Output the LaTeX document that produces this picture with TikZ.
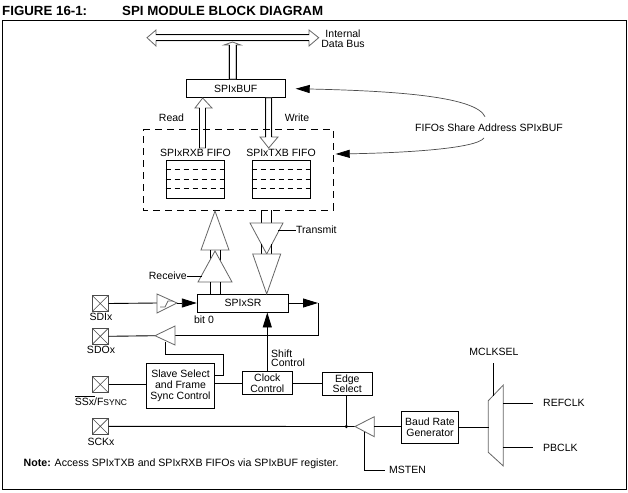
\documentclass[tikz,border=0pt]{standalone}
\usepackage{fontspec}
\setmainfont{Liberation Sans}
\usetikzlibrary{arrows.meta}
\tikzset{
  x=1pt,y=-1pt,
  wire/.style={draw=black,line width=0.9pt},
  thin wire/.style={draw=black,line width=0.8pt},
  bighead/.style={-{Triangle[length=15pt,width=9pt,color=black]}},
  box/.style={draw=black,line width=0.9pt,fill=white,inner sep=0pt,align=center,font=\fontsize{10.5}{10.5}\selectfont},
  lab/.style={inner sep=0pt,font=\fontsize{10.5}{10.5}\selectfont,align=center},
  hollow/.style={draw=black!60,line width=0.8pt,fill=white,line join=miter},
  tri/.style={draw=black!60,line width=0.8pt,fill=white},
  pin/.style={draw=black!70,line width=0.8pt,fill=white,minimum size=16pt,inner sep=0pt,
    path picture={\draw[black!70,line width=.6pt] (path picture bounding box.north west)--(path picture bounding box.south east) (path picture bounding box.north east)--(path picture bounding box.south west);}},
  fifo/.style={draw=black,line width=0.9pt,fill=white,minimum width=58pt,minimum height=37.5pt,inner sep=0pt},
  dashline/.style={draw=black,line width=0.8pt,dash pattern=on 7pt off 5pt},
  headfont/.style={anchor=west,inner sep=0pt,font=\bfseries\fontsize{13.3}{13.3}\selectfont},
}
\begin{document}
\begin{tikzpicture}
\useasboundingbox (0,0) rectangle (628,492);
\fill[white] (0,0) rectangle (628,492);
% heading
\node[headfont] (fig) at (2,11) {FIGURE 16-1:};
\node[headfont] (ttl) at (122,11) {SPI MODULE BLOCK DIAGRAM};
\draw[line width=0.9pt] (2.5,20.5) -- (626,20.5) -- (626,489) -- (2.5,489) -- cycle;
% data bus
\draw[hollow] (147,37.7) -- (156,30) -- (156,34.7) -- (309,34.7) -- (309,30) -- (318.7,37.7) -- (309,46) -- (309,40.7) -- (156,40.7) -- (156,46) -- cycle;
\draw[thin wire] (156,34.7) -- (309,34.7) (156,40.7) -- (309,40.7);
\node[lab] (bus) at (343,39) {Internal\\[-0.8pt]Data Bus};
% bus-to-buffer
\node[box,minimum width=99.5pt,minimum height=18.5pt] (buf) at (235.7,88.7) {SPIxBUF};
\draw[hollow] (232.5,42) -- (240.7,45) -- (236,45) -- (236,79) -- (229,79) -- (229,45) -- (224,45) -- cycle;
\draw[thin wire] (229,45)--(229,79) (236,45)--(236,79);
% Read / write
\draw[hollow] (202.7,98) -- (212,108) -- (205.5,108) -- (205.5,148) -- (199.5,148) -- (199.5,108) -- (195,108) -- cycle;
\draw[thin wire] (199.5,108)--(199.5,148) (205.5,108)--(205.5,148);
\draw[hollow] (268.7,148) -- (260,137) -- (265.7,137) -- (265.7,98) -- (271.7,98) -- (271.7,137) -- (278,137) -- cycle;
\draw[thin wire] (265.7,98)--(265.7,137) (271.7,98)--(271.7,137);
\node[lab] (read) at (171.5,118) {Read};
\node[lab] (write) at (297,118) {Write};
% dashed
\draw[dashline] (143,129.3) -- (333,129.3) -- (333,210) -- (143,210) -- cycle;
\node[lab] (rxl) at (195.5,153) {SPIxRXB FIFO};
\node[lab] (txl) at (281,153) {SPIxTXB FIFO};
\node[fifo] (rx) at (195,179.3) {};
\node[fifo] (tx) at (281,179.3) {};
\foreach \y in {169,179,188.5}{
 \draw[dashline,dash pattern=on 5pt off 4pt] (rx.west |- 0,\y) -- (rx.east |- 0,\y);
 \draw[dashline,dash pattern=on 5pt off 4pt] (tx.west |- 0,\y) -- (tx.east |- 0,\y);
}
% SR
\node[box,minimum width=91.5pt,minimum height=18pt] (sr) at (243,303) {SPIxSR};
\node[lab] (bit) at (204,320) {bit 0};
% Receive
\draw[tri] (215,211) -- (229,250) -- (201,250) -- cycle;
\draw[thin wire] (210,250)--(210,262) (220.7,250)--(220.7,262);
\draw[tri] (215,251) -- (232,282) -- (198,282) -- cycle;
\draw[thin wire] (210,282)--(210,294) (220.7,282)--(220.7,294);
% Transmit
\draw[thin wire] (261.5,210)--(261.5,223) (271,210)--(271,223);
\draw[tri] (250,223) -- (283,223) -- (266.7,254) -- cycle;
\draw[thin wire] (261.5,244)--(261.5,254) (271.5,244)--(271.5,254);
\draw[tri] (252.7,254) -- (280.7,254) -- (266.7,294) -- cycle;
\node[lab,anchor=west] (tr) at (296,230) {Transmit};
\draw[wire,line width=.7pt] (278,230) -- (tr.west);
\node[lab,anchor=east] (rc) at (187,276) {Receive};
\draw[wire,line width=.7pt] (rc.east) -- (201.5,276);
% pins
\node[pin] (sdi) at (100.3,303.5) {};
\node[lab] (sdil) at (101,317) {SDIx};
\node[pin] (sdo) at (100.3,336.3) {};
\node[lab] (sdol) at (101,350) {SDOx};
\node[pin] (ss) at (100.3,384.5) {};
\node[lab] (ssl) at (101,401) {\makebox[0pt][l]{\rule[8.5pt]{20pt}{0.6pt}}SSx/F{\fontsize{8.5}{8.5}\selectfont SYNC}};
\node[pin] (sck) at (100.3,426.3) {};
\node[lab] (sckl) at (101,442) {SCKx};
% sdi buffer
\coordinate (gi) at (157,303);
\coordinate (go) at (177,303);
\draw[wire] (sdi.east) -- (gi);
\draw[tri] (157,294) -- (177,303) -- (157,313) -- cycle;
\draw[draw=black!60,line width=.7pt] (160,307) -- (165,307) -- (168,301) -- (173,301);
\draw[wire,bighead] (go) -- (sr.west);
% sr out
\coordinate (crn) at (318,303);
\coordinate (crn2) at (318,335.7);
\coordinate (so) at (175,335.7);
\coordinate (soa) at (155,335.7);
\draw[wire,bighead] (sr.east) -- (crn);
\draw[wire] (crn) -- (crn2) -- (so);
\draw[wire] (soa) -- (sdo.east);
\draw[tri] (175,326) -- (155,335.7) -- (175,345) -- cycle;
% slave select
\node[box,minimum width=68pt,minimum height=45pt] (sl) at (180.5,385.8) {Slave Select\\[0.3pt]and Frame\\[0.3pt]Sync Control};
\draw[wire] (ss.east) -- (sl.west |- ss.east);
\node[box,minimum width=50.7pt,minimum height=22.5pt] (cc) at (267.3,383) {Clock\\Control};
\draw[wire] (sl.east |- cc.west) -- (cc.west);
\coordinate (j1) at (223,375);
\coordinate (j2) at (223,354.7);
\coordinate (j3) at (165.7,354.7);
\coordinate (j4) at (165.7,341.5);
\draw[wire] (sl.east |- j1) -- (j1) -- (j2) -- (j3) -- (j4);
\draw[wire,bighead] (cc.north) -- (cc.north |- sr.south);
\node[lab,anchor=west,align=left] (shift) at (271,358.5) {Shift\\[-1.5pt]Control};
\node[box,minimum width=50pt,minimum height=22.7pt] (es) at (347.3,383.6) {Edge\\Select};
\draw[wire] (cc.east) -- (es.west |- cc.east);
% sck
\node[box,minimum width=56.6pt,minimum height=32pt] (brg) at (430,427.3) {Baud Rate\\Generator};
\coordinate (bi) at (355,426.5);
\coordinate (bo) at (374.3,426.5);
\coordinate (dot) at (346.3,426.5);
\draw[wire] (sck.east) -- (bi);
\draw[tri] (374.3,416.7) -- (355,426.5) -- (374.3,436.7) -- cycle;
\draw[wire] (es.south -| dot) -- (dot);
\fill (dot) circle (1.8pt);
\draw[wire] (bo) -- (brg.west |- bo);
\node[lab,anchor=west] (ms) at (389,470) {MSTEN};
\coordinate (mi) at (364.7,431.5);
\draw[wire] (mi) -- (364.7,470) -- (385,470);
% mux
\draw[hollow] (488.3,400.7) -- (503.3,385) -- (503.3,466) -- (488.3,452.3) -- cycle;
\draw[wire] (brg.east) -- (489,427.3);
\node[lab] (mcs) at (494,352) {MCLKSEL};
\draw[wire] (493.3,363.3) -- (493.3,395.7);
\node[lab,anchor=west] (ref) at (543,403) {REFCLK};
\node[lab,anchor=west] (pb) at (543,448) {PBCLK};
\draw[wire] (503.3,403.3) -- (533,403.3);
\draw[wire] (503.3,447.7) -- (533,447.7);
% FIFOs share
\node[lab] (share) at (489,128) {FIFOs Share Address SPIxBUF};
\coordinate (a1) at (485,116.7);
\coordinate (a2) at (484,138);
\coordinate (t1) at (295.7,88.7);
\coordinate (t2) at (335.7,154);
\draw[draw=black!70,line width=.7pt,-{Triangle[length=14pt,width=8pt,color=black]}] (a1) .. controls (476,97) and (400,91) .. (t1);
\draw[draw=black!70,line width=.7pt,-{Triangle[length=14pt,width=8pt,color=black]}] (a2) .. controls (476,149) and (400,153) .. (t2);
% note
\node[anchor=west,inner sep=0pt,font=\fontsize{10.6}{10.6}\selectfont] (note) at (23.5,464) {\textbf{Note:} Access SPIxTXB and SPIxRXB FIFOs via SPIxBUF register.};
\end{tikzpicture}
\end{document}
